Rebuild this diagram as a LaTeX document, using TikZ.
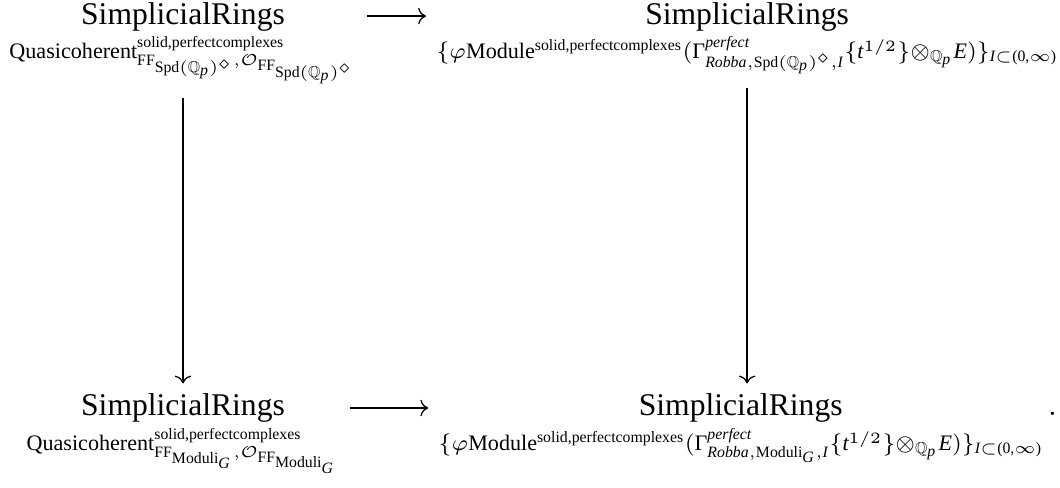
\documentclass[tikz,border=0pt]{standalone}
\usepackage{amsmath,amssymb}
\usepackage{fontspec}
\setmainfont{Liberation Serif}
\usetikzlibrary{arrows.meta}
\tikzset{
  obj/.style={anchor=base, inner sep=3.33pt, outer sep=0pt},
  map/.style={draw, line width=0.4pt, -{Computer Modern Rightarrow}}
}
\newcommand{\Qp}{\mathbb{Q}_{\textit{p}}}
\newcommand{\SR}{\text{SimplicialRings}}
\newcommand{\Ivl}{\textit{I}\subset\text{(0,}\infty\text{)}}
\begin{document}
\begin{tikzpicture}
\useasboundingbox (0pt,0pt) rectangle (335.4pt,-154.1pt);
\node[obj] (TL) at (57.9pt,-7.6pt)
 {$\mathop{\SR}\limits_{\text{Quasicoherent}^{\text{solid,perfectcomplexes}}_{\text{FF}_{\text{Spd}(\Qp)^{\diamond}},\mathcal{O}_{\text{FF}_{\text{Spd}(\Qp)^{\diamond}}}}}$};
\node[obj] (TR) at (236.4pt,-7.6pt)
 {$\mathop{\SR}\limits_{\{\varphi\text{Module}^{\text{solid,perfectcomplexes}}(\text{Γ}^{\textit{perfect}}_{\textit{Robba},\text{Spd}(\Qp)^{\diamond},\textit{I}}\{\textit{t}^{1/2}\}\otimes_{\Qp}\textit{E})\}_{\Ivl}}$};
\node[obj] (BL) at (57.9pt,-131.6pt)
 {$\mathop{\SR}\limits_{\text{Quasicoherent}^{\text{solid,perfectcomplexes}}_{\text{FF}_{\text{Moduli}_{\textit{G}}},\mathcal{O}_{\text{FF}_{\text{Moduli}_{\textit{G}}}}}}$};
\node[obj] (BR) at (236.6pt,-131.6pt)
 {$\mathop{\SR}\limits_{\{\varphi\text{Module}^{\text{solid,perfectcomplexes}}(\text{Γ}^{\textit{perfect}}_{\textit{Robba},\text{Moduli}_{\textit{G}},\textit{I}}\{\textit{t}^{1/2}\}\otimes_{\Qp}\textit{E})\}_{\Ivl}}.$};
\draw[map] ([yshift=2.5pt]TL.base east) -- ([yshift=2.5pt]TR.base west);
\draw[map] ([yshift=2.5pt]BL.base east) -- ([yshift=2.5pt]BR.base west);
\draw[map] (TL.south) -- (TL.south |- BL.north);
\draw[map] (TR.south) -- (TR.south |- BR.north);
\end{tikzpicture}
\end{document}
